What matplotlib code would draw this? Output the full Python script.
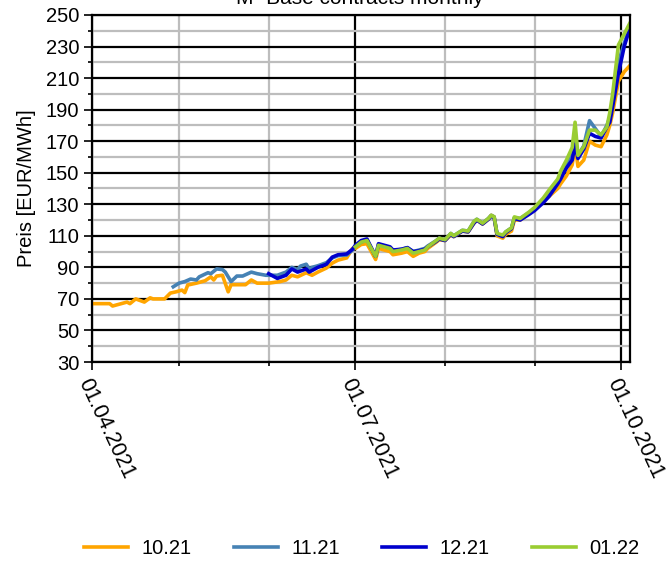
#!/usr/bin/env python3

""" Base contracts: forward prices of the monthly contracts 10.21 - 01.22 """

import pandas as pd
import matplotlib.pyplot as plt
import matplotlib.dates as mdates
from matplotlib.ticker import FixedLocator, MultipleLocator

plt.rcParams['font.family'] = ['Liberation Sans', 'DejaVu Sans']

# dates Apr - Jun (only 10.21 traded from April)
dates_q2_1021 = ["2021-04-01", "2021-04-03", "2021-04-07", "2021-04-08", "2021-04-10",
                 "2021-04-13", "2021-04-14", "2021-04-16", "2021-04-19", "2021-04-21",
                 "2021-04-22", "2021-04-26", "2021-04-28", "2021-04-30", "2021-05-02",
                 "2021-05-03", "2021-05-04", "2021-05-07", "2021-05-10", "2021-05-12",
                 "2021-05-13", "2021-05-14", "2021-05-16", "2021-05-18", "2021-05-19",
                 "2021-05-21", "2021-05-24", "2021-05-26", "2021-05-28", "2021-06-01",
                 "2021-06-05", "2021-06-07", "2021-06-09", "2021-06-11", "2021-06-14",
                 "2021-06-16", "2021-06-18", "2021-06-21", "2021-06-23", "2021-06-25",
                 "2021-06-28", "2021-06-30"]
q2_1021 = [67, 67, 67, 65.5, 66.5, 68, 67, 70, 68, 70.7,
           70, 70, 73.7, 74.5, 75.6, 74, 78.8, 80, 81.5, 84,
           82, 84.5, 85, 74.5, 79, 79, 79, 82, 80, 80,
           81, 82, 85, 84, 86.6, 85, 87, 89.6, 92.7, 94.6,
           96, 102]

dates_q2_1121 = ["2021-04-29", "2021-05-01", "2021-05-03", "2021-05-05", "2021-05-07",
                 "2021-05-08", "2021-05-11", "2021-05-12", "2021-05-14", "2021-05-16",
                 "2021-05-17", "2021-05-19", "2021-05-21", "2021-05-23", "2021-05-26",
                 "2021-05-28", "2021-05-31", "2021-06-04", "2021-06-07", "2021-06-09",
                 "2021-06-11", "2021-06-12", "2021-06-14", "2021-06-15", "2021-06-16",
                 "2021-06-18", "2021-06-21", "2021-06-23", "2021-06-25", "2021-06-28",
                 "2021-06-30"]
q2_1121 = [77.7, 80, 81, 82.6, 82, 84, 86.6, 86, 89, 88.6,
           87, 81, 84.5, 84.5, 87, 86, 85, 85, 87, 90,
           88.6, 90.8, 92, 89, 90, 91, 93, 96, 97.4, 97.8,
           101]

dates_q2_1221 = ["2021-06-01", "2021-06-04", "2021-06-07", "2021-06-09", "2021-06-11",
                 "2021-06-14", "2021-06-15", "2021-06-18", "2021-06-21", "2021-06-23",
                 "2021-06-25", "2021-06-28", "2021-06-30"]
q2_1221 = [86, 83, 85, 89, 87, 89, 87, 90, 92, 96.5, 98, 98.5, 101.5]

# dates Jul - Oct, all four contracts
dates_q3 = ["2021-07-01", "2021-07-03", "2021-07-05", "2021-07-08", "2021-07-09",
            "2021-07-11", "2021-07-13", "2021-07-14", "2021-07-17", "2021-07-19",
            "2021-07-21", "2021-07-23", "2021-07-25", "2021-07-26", "2021-07-29",
            "2021-07-30",
            "2021-08-01", "2021-08-03", "2021-08-04", "2021-08-07", "2021-08-09",
            "2021-08-11", "2021-08-12", "2021-08-14", "2021-08-16", "2021-08-17",
            "2021-08-18", "2021-08-19", "2021-08-21", "2021-08-22", "2021-08-24",
            "2021-08-25", "2021-08-27", "2021-08-30",
            "2021-09-01", "2021-09-04", "2021-09-06", "2021-09-09", "2021-09-10",
            "2021-09-12", "2021-09-14", "2021-09-15", "2021-09-16", "2021-09-18",
            "2021-09-20", "2021-09-22", "2021-09-24", "2021-09-26", "2021-09-27",
            "2021-09-28", "2021-09-30", "2021-10-02", "2021-10-04"]
q3_1021 = [102, 104.5, 105, 95, 102, 101, 100, 98, 99, 100, 97, 99, 100, 102, 106, 107.5,
           107, 110.5, 109.5, 113, 112.5, 118, 120, 117.5, 120.5, 123, 122, 110, 108.5,
           111, 113, 120, 120, 124,
           126.5, 132, 135, 140, 143, 148, 155, 167, 154, 158, 170, 167.5, 166.5, 174,
           180, 188, 208, 214, 218]
q3_1121 = [103.5, 106, 107.5, 97, 104.5, 103.5, 102.5, 100.5, 101.5, 102.5, 100, 101,
           102, 103.5, 107, 108.5,
           107.5, 111.5, 110, 113.5, 113, 119, 120.5, 118, 121, 123, 122, 111, 110,
           112.5, 115, 121.5, 121, 124.5,
           127, 132.5, 137, 145, 149, 155, 162, 172, 161, 167, 183, 178, 173, 180,
           185, 195, 220, 232, 243]
q3_1221 = [104, 107, 108, 97, 105, 104, 103, 101, 101.5, 102.5, 100, 100.5, 101.5, 103,
           106.5, 108,
           107, 111, 109.5, 113, 112.5, 118, 120, 117.5, 120.5, 122.5, 121.5, 111, 109.5,
           112, 114.5, 121, 120, 123.5,
           126, 131, 135, 143, 146, 153, 158, 168, 159, 165, 175, 173, 172, 179,
           182, 192, 213, 230, 242]
q3_0122 = [103, 106, 107, 97, 104, 103, 102, 100, 101, 102, 99, 100, 101, 103, 107, 108.5,
           107.5, 111.5, 110, 113.5, 113, 119, 120.5, 118, 121, 123, 122, 111.5, 110.5,
           112.5, 115, 122, 121, 125,
           128, 134, 139, 146, 151, 158, 166, 182, 161, 166.5, 177, 177, 174, 179,
           188, 200, 231, 238, 245]

labels = ["10.21", "11.21", "12.21", "01.22"]
colors = ["#FFA500", "#4682B4", "#0000CD", "#9ACD32"]
y_ticks = [30, 50, 70, 90, 110, 130, 150, 170, 190, 210, 230, 250]

series = [
    (dates_q2_1021 + dates_q3, q2_1021 + q3_1021),
    (dates_q2_1121 + dates_q3, q2_1121 + q3_1121),
    (dates_q2_1221 + dates_q3, q2_1221 + q3_1221),
    (dates_q3, q3_0122),
]

fig = plt.figure(figsize=(6.72, 5.61), dpi=100)
ax = fig.add_axes([0.1374, 0.3547, 0.8001, 0.6186])

for (d, v), lab, col in zip(series, labels, colors):
    ax.plot(pd.to_datetime(d), v, color=col, lw=2.6, label=lab, zorder=3)

ax.set_xlim(pd.Timestamp("2021-04-01"), pd.Timestamp("2021-10-04"))
ax.set_ylim(30, 250)
ax.yaxis.set_major_locator(FixedLocator(y_ticks))
ax.yaxis.set_minor_locator(MultipleLocator(10))
ax.xaxis.set_major_locator(mdates.MonthLocator(bymonth=[1, 4, 7, 10]))
ax.xaxis.set_minor_locator(mdates.MonthLocator())
ax.xaxis.set_major_formatter(mdates.DateFormatter("%d.%m.%Y"))

ax.grid(which="minor", color="#bdbdbd", lw=1.6, zorder=1)
ax.grid(which="major", color="black", lw=1.6, zorder=2)
for s in ax.spines.values():
    s.set_linewidth(1.6)
    s.set_zorder(4)

ax.tick_params(which="major", direction="out", length=6, width=1.2, labelsize=14.5)
ax.tick_params(which="minor", direction="out", length=3, width=1.2)
ax.tick_params(axis="x", which="major", labelsize=15.5)
plt.setp(ax.get_xticklabels(), rotation=-65, ha="left", va="top", rotation_mode="anchor")

ax.set_ylabel("Preis [EUR/MWh]", fontsize=14.5, labelpad=7)

fig.text(0.535, 0.993, "M- Base contracts monthly", ha="center", va="baseline", fontsize=15)

fig.legend(loc="center", bbox_to_anchor=(0.538, 0.023), ncol=4, frameon=False,
           fontsize=14.5, handlelength=2.2, columnspacing=2.1, handletextpad=0.65)

fig.savefig("out.png", dpi=100)
